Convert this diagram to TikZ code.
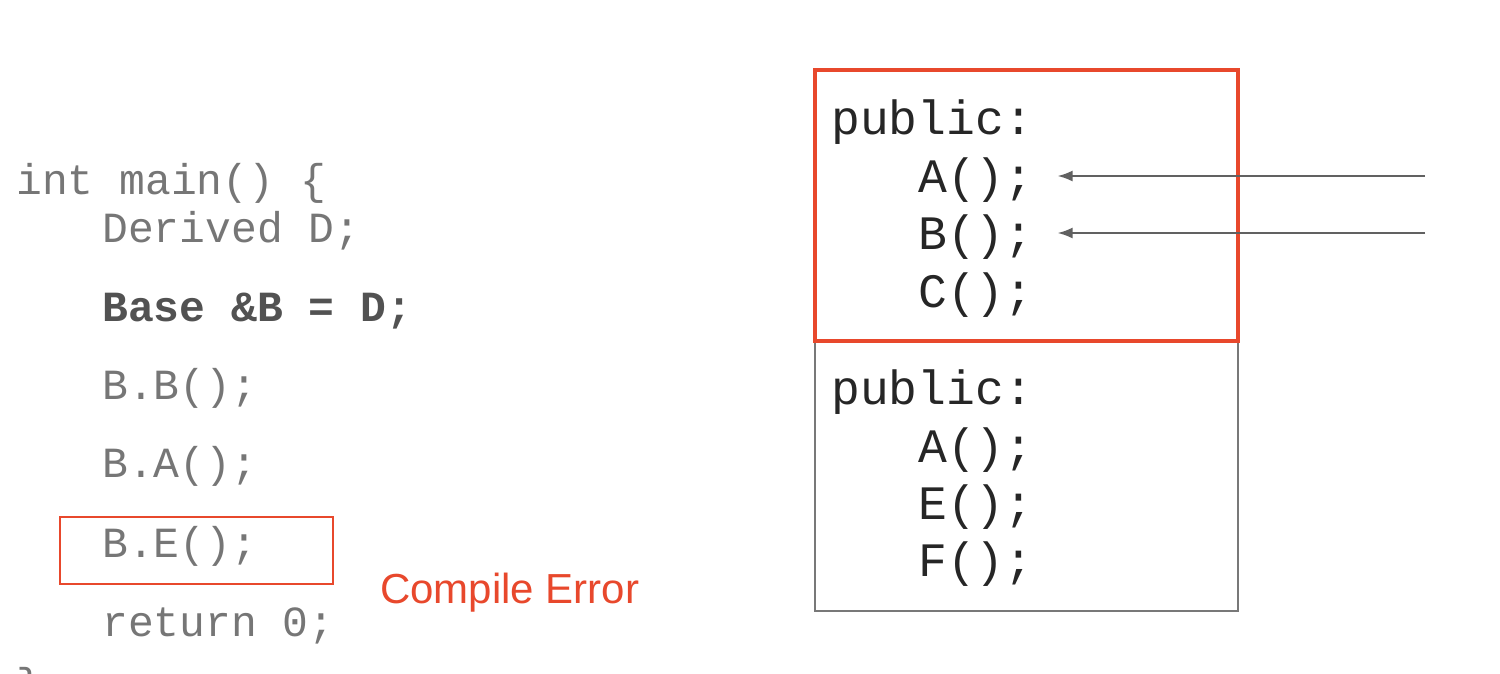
\documentclass[tikz,border=0pt]{standalone}
\usepackage{fontspec}
\setmainfont{Liberation Sans}
\setmonofont{Liberation Mono}
\usetikzlibrary{arrows.meta}

\definecolor{codegray}{RGB}{118,118,118}
\definecolor{errred}{RGB}{232,72,44}
\definecolor{framegray}{RGB}{120,120,120}

\begin{document}
\begin{tikzpicture}[x=1pt,y=1pt,yscale=-1,xscale=1,
  codeline/.style={anchor=base west,inner sep=0pt,text=codegray,font=\fontsize{43}{43}\selectfont\ttfamily},
  boxline/.style={anchor=base west,inner sep=0pt,text=black!85,font=\fontsize{48}{48}\selectfont\ttfamily},
  callarrow/.style={draw=black!62,line width=1.8pt,-{Latex[length=15pt,width=11pt]}}]
\clip (0,0) rectangle (1500,673);
\fill[white] (0,0) rectangle (1500,673);

% Shape: frames
\draw [framegray,line width=1.8pt] (815,341) rectangle (1238,611);
\draw [errred,line width=3.8pt] (815,70) rectangle (1238,341);
\draw [errred,line width=1.4pt] (60,517) rectangle (333,584);

% Text Node: main
\node [codeline] (lmain) at (16,194) {int main() \{};
\node [codeline] (lderived) at (102,242) {Derived D;};
\node [codeline,text=black!68,font=\fontsize{43}{43}\selectfont\ttfamily\bfseries] (lbase) at (102,321) {Base \&B = D;};
\node [codeline] (lcallb) at (102,399) {B.B();};
\node [codeline] (lcalla) at (102,477) {B.A();};
\node [codeline] (lcalle) at (102,557) {B.E();};
\node [codeline] (lreturn) at (102,636) {return 0;};
\node [codeline] (lend) at (16,698) {\}};

% Text Node: error
\node [anchor=base west,inner sep=0pt,text=errred,font=\fontsize{42}{42}\selectfont] (err) at (380,603) {Compile Error};

% Text Node: base part
\node [boxline] (bpub) at (831,134) {public:};
\node [boxline] (ba) at (918,192) {A();};
\node [boxline] (bb) at (918,249) {B();};
\node [boxline] (bc) at (918,307) {C();};

% Text Node: derived part
\node [boxline] (dpub) at (831,404) {public:};
\node [boxline] (da) at (918,462) {A();};
\node [boxline] (de) at (918,519) {E();};
\node [boxline] (df) at (918,576) {F();};

% Arrows
\coordinate (srca) at (1425,176);
\coordinate (srcb) at (1425,233);
\draw [callarrow,shorten >=24pt] (srca) -- (srca -| ba.east);
\draw [callarrow,shorten >=24pt] (srcb) -- (srcb -| bb.east);

\end{tikzpicture}
\end{document}
